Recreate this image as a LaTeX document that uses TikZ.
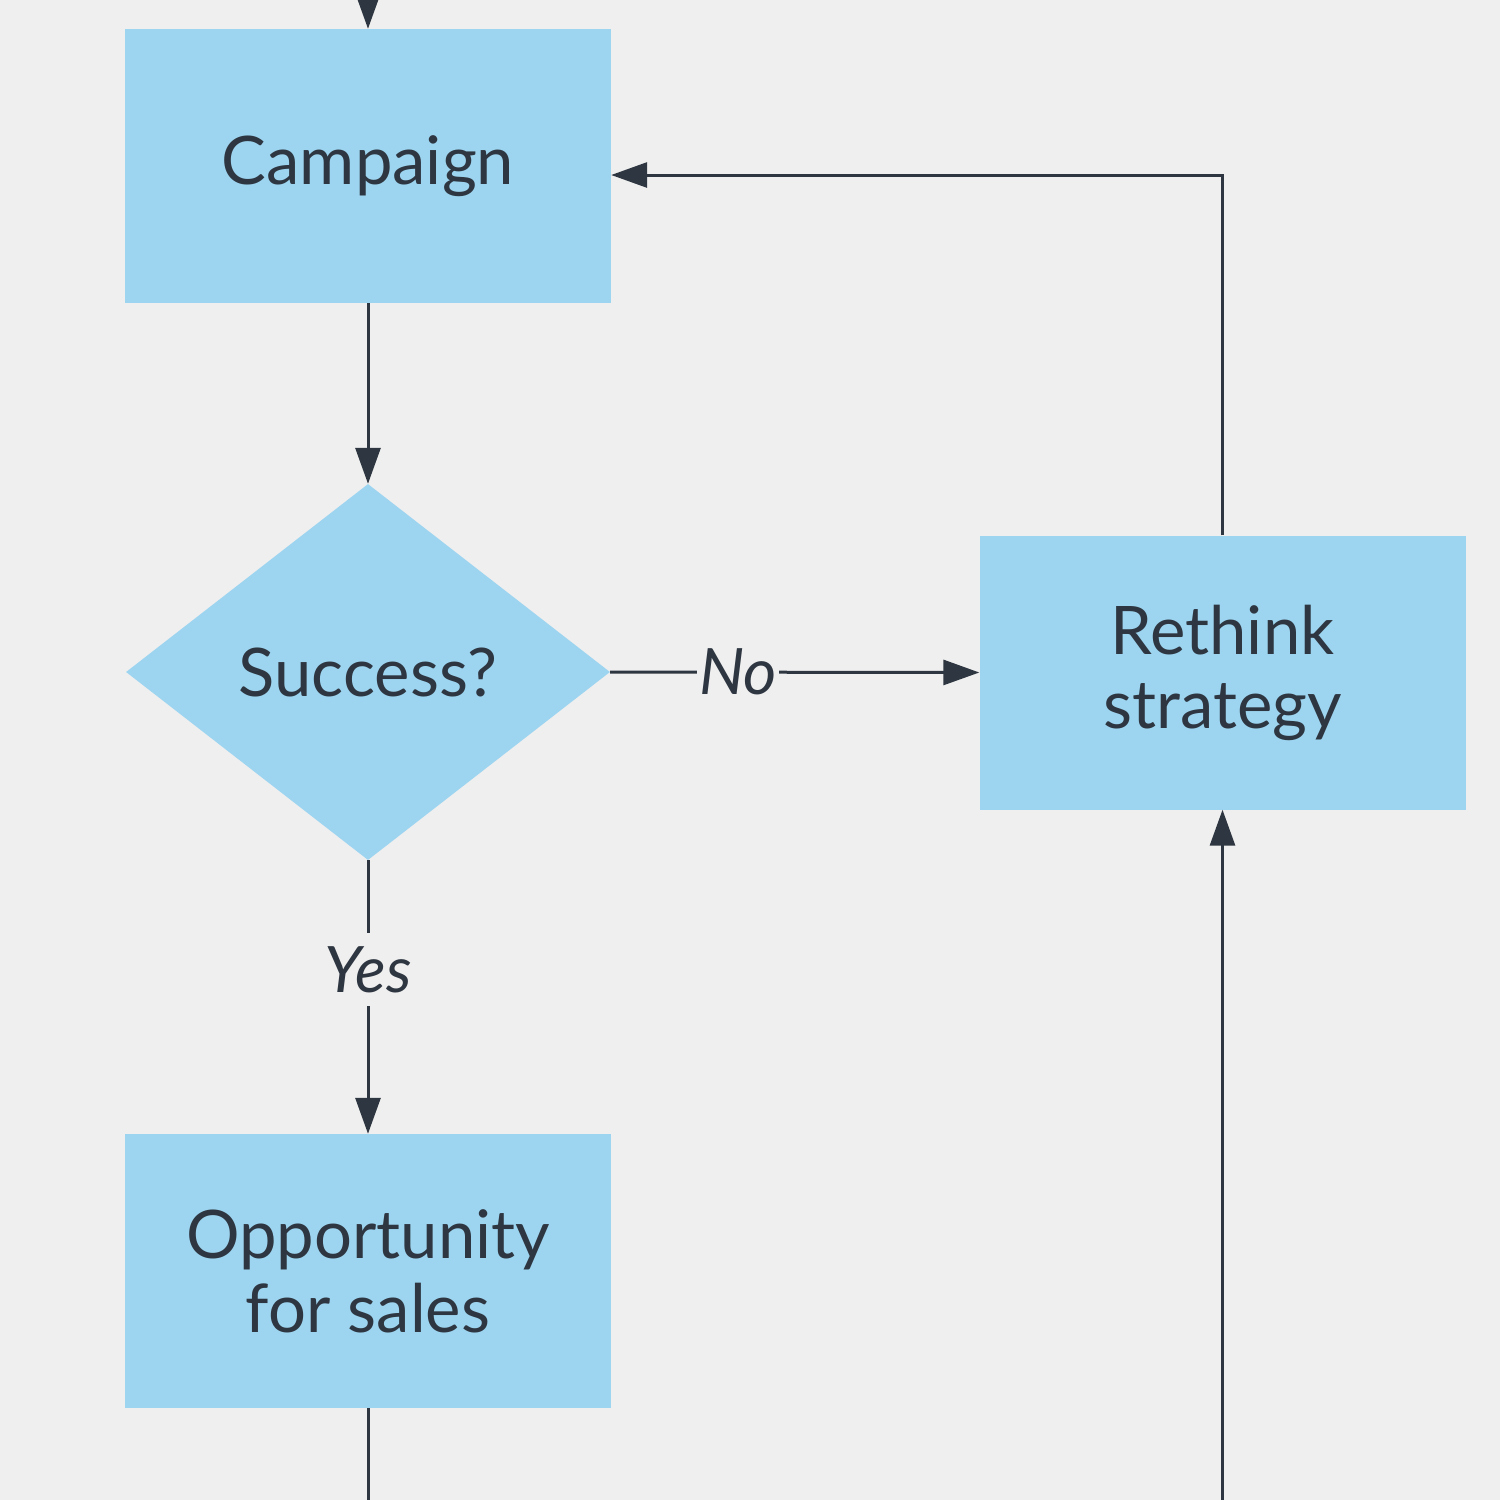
\documentclass[tikz,border=0pt]{standalone}
\usepackage{fontspec}
\setmainfont{Lato}
\usetikzlibrary{shapes.geometric,arrows.meta}
\definecolor{bg}{HTML}{EFEFEF}
\definecolor{boxc}{HTML}{9DD5F0}
\definecolor{ink}{HTML}{2E3641}
\begin{document}
\begin{tikzpicture}[x=1pt,y=-1pt,
  box/.style={rectangle, fill=boxc, minimum width=486pt, minimum height=274pt, inner sep=0pt, align=center, text=ink, font=\fontsize{67}{74}\selectfont},
  dia/.style={diamond, fill=boxc, minimum width=484pt, minimum height=376pt, inner sep=0pt, align=center, text=ink, font=\fontsize{67}{74}\selectfont},
  conn/.style={draw=ink, line width=3pt, -{Triangle[length=36pt,width=25pt]}},
  plain/.style={draw=ink, line width=3pt},
  lbl/.style={fill=bg, text=ink, font=\fontsize{64}{70}\selectfont\itshape, inner xsep=2pt, inner ysep=13pt}
]
\useasboundingbox (0,0) rectangle (1500,1500);
\fill[bg] (0,0) rectangle (1500,1500);
\clip (0,0) rectangle (1500,1500);
\node[box] (camp) at (368,166) {Campaign};
\node[dia] (succ) at (368,672) {Success?};
\node[box] (reth) at (1222.5,672.5) {Rethink\\strategy};
\node[box] (opp) at (368,1271) {Opportunity\\for sales};
\coordinate (topin) at (368,-20);
\coordinate (bend) at (1222.5,175);
\coordinate (botl) at (368,1520);
\coordinate (botr) at (1222.5,1520);
\draw[conn] (topin) -- (camp.north);
\draw[conn] (camp.south) -- (succ.north);
\draw[conn] (succ.east) -- node[lbl, pos=0.347] {No} (reth.west);
\draw[conn] (succ.south) -- node[lbl, pos=0.4] {Yes} (opp.north);
\draw[conn] (reth.north) |- (camp.east |- bend);
\draw[conn] (botr) -- (reth.south);
\draw[plain] (opp.south) -- (botl);
\end{tikzpicture}
\end{document}
